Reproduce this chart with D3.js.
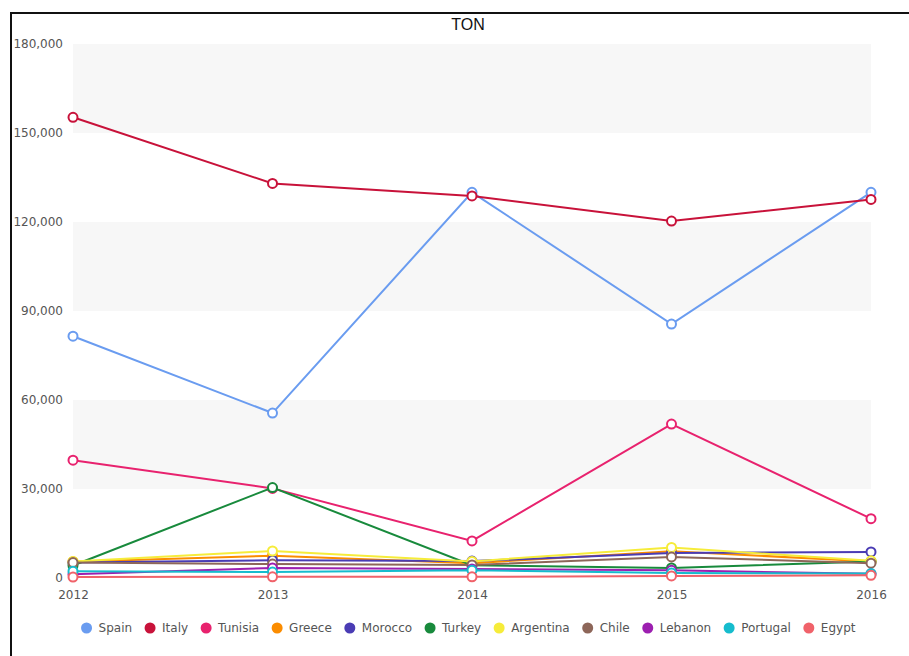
<!DOCTYPE html>
<html>
<head>
<meta charset="utf-8">
<script src="https://cdn.jsdelivr.net/npm/d3@7"></script>
<style>
  html, body { margin: 0; padding: 0; background: #fff; }
  svg { display: block; font-family: "DejaVu Sans", "Liberation Sans", Arial, sans-serif; }
</style>
</head>
<body>
<svg id="chart" width="909" height="656"></svg>
<script>
// Yearly volumes (tonnes) by exporting country
const years = [2012, 2013, 2014, 2015, 2016];
const countries = ["Spain", "Italy", "Tunisia", "Greece", "Morocco", "Turkey", "Argentina", "Chile", "Lebanon", "Portugal", "Egypt"];
const colors = ["#6a9cf0", "#c8123a", "#e8226e", "#fb8c00", "#4a3cb4", "#188a3c", "#f6ec3a", "#8d6659", "#9c1fb0", "#16bccd", "#f0626a"];
const spain     = [81500, 55600, 130000, 85600, 130000];
const italy     = [155300, 133000, 128800, 120300, 127600];
const tunisia   = [39700, 30200, 12500, 51900, 20000];
const greece    = [5500, 7500, 5000, 9000, 5600];
const morocco   = [5200, 6000, 5700, 8400, 8800];
const turkey    = [4200, 30500, 4300, 3400, 5600];
const argentina = [5600, 9100, 5600, 10300, 5800];
const chile     = [5200, 4700, 4400, 7100, 5000];
const lebanon   = [1300, 3400, 3000, 2600, 1400];
const portugal  = [2300, 2000, 2600, 1700, 1500];
const egypt     = [300, 400, 400, 700, 900];
const series = [spain, italy, tunisia, greece, morocco, turkey, argentina, chile, lebanon, portugal, egypt];
const yTicks = [0, 30000, 60000, 90000, 120000, 150000, 180000];

const FONT = "\"DejaVu Sans\", \"Liberation Sans\", Arial, sans-serif";
const svg = d3.select("#chart");
const plot = { left: 73, right: 871, top: 44, bottom: 578 };

const x = d3.scalePoint().domain(years).range([plot.left, plot.right]);
const y = d3.scaleLinear().domain([0, 180000]).range([plot.bottom, plot.top]);

// Frame
svg.append("rect")
  .attr("x", 11).attr("y", 13).attr("width", 920).attr("height", 660)
  .attr("fill", "#fff").attr("stroke", "#111").attr("stroke-width", 2);

// Title
svg.append("text")
  .attr("x", 468).attr("y", 30)
  .attr("text-anchor", "middle")
  .attr("font-size", 16).attr("fill", "#111")
  .attr("font-family", "\"Liberation Sans\", Arial, sans-serif")
  .text("TON");

// Alternating horizontal bands
const bandPairs = d3.range(yTicks.length - 1).map(i => [yTicks[i], yTicks[i + 1]]);
svg.append("g").selectAll("rect")
  .data(bandPairs.filter((d, i) => i % 2 === 1))
  .join("rect")
  .attr("x", plot.left)
  .attr("width", plot.right - plot.left)
  .attr("y", d => y(d[1]))
  .attr("height", d => y(d[0]) - y(d[1]))
  .attr("fill", "#f7f7f7");

// Y axis labels
const yAxis = d3.axisLeft(y).tickValues(yTicks).tickSize(0).tickPadding(0)
  .tickFormat(d3.format(","));
const yg = svg.append("g").attr("transform", "translate(63,0)").call(yAxis);
yg.select(".domain").remove();
yg.selectAll("text").attr("font-size", 12).attr("fill", "#555").attr("font-family", FONT);

// X axis labels
const xAxis = d3.axisBottom(x).tickSize(0).tickPadding(0).tickFormat(d3.format("d"));
const xg = svg.append("g").attr("transform", "translate(0,590)").call(xAxis);
xg.select(".domain").remove();
xg.selectAll("text").attr("font-size", 12).attr("fill", "#555").attr("font-family", FONT);

// Lines and markers, one series at a time
const line = d3.line().x((d, i) => x(years[i])).y(d => y(d));
series.forEach((vals, si) => {
  const g = svg.append("g");
  g.append("path")
    .attr("d", line(vals))
    .attr("fill", "none")
    .attr("stroke", colors[si])
    .attr("stroke-width", 2);
  g.selectAll("circle")
    .data(vals)
    .join("circle")
    .attr("cx", (d, i) => x(years[i]))
    .attr("cy", d => y(d))
    .attr("r", 4.5)
    .attr("fill", "#fff")
    .attr("stroke", colors[si])
    .attr("stroke-width", 2);
});

// Legend
const legend = svg.append("g").attr("transform", "translate(0,628)");
const items = legend.selectAll("g").data(countries).join("g");
items.append("circle").attr("r", 5.5).attr("fill", (d, i) => colors[i]);
items.append("text")
  .attr("x", 12).attr("dy", "0.35em")
  .attr("font-size", 12).attr("fill", "#555").attr("font-family", FONT)
  .text(d => d);
const gap = 18;
let cx = 0;
const offsets = [];
items.each(function() {
  const w = d3.select(this).select("text").node().getComputedTextLength();
  offsets.push(cx);
  cx += 12 + w + gap;
});
const total = cx - gap;
const start = 466 - total / 2 + 5;
items.attr("transform", (d, i) => `translate(${start + offsets[i]},0)`);
</script>
</body>
</html>
